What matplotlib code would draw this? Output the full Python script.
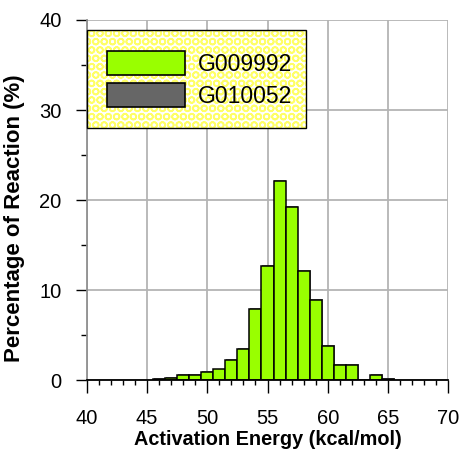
import matplotlib
matplotlib.use("Agg")
import matplotlib.pyplot as plt
from matplotlib.patches import Rectangle, Patch
from matplotlib.ticker import MultipleLocator

plt.rcParams['font.family'] = ['Liberation Sans', 'DejaVu Sans']
plt.rcParams['hatch.linewidth'] = 1.2

# Histogram of activation energies (bin centres in kcal/mol, percentage of reactions)
energy_bins = [46, 47, 48, 49, 50, 51, 52, 53, 54, 55, 56, 57, 58, 59, 60, 61, 62, 63, 64, 65]
g009992_pct = [0.15, 0.3, 0.55, 0.55, 0.95, 1.2, 2.25, 3.45, 7.9, 12.65, 22.1, 19.2,
               12.1, 8.95, 3.8, 1.75, 1.75, 0.0, 0.55, 0.15]
g010052_pct = []
series_names = ['G009992', 'G010052']
series_colors = ['#99ff00', '#666666']
x_ticks = [40, 45, 50, 55, 60, 65, 70]
y_ticks = [0, 10, 20, 30, 40]

fig = plt.figure(figsize=(4.64, 4.49), dpi=100)
ax = fig.add_axes([0.1869, 0.153, 0.7793, 0.8025])

# soft drop shadow behind each bar
ax.bar([b + 0.07 for b in energy_bins], [v + 0.1 if v > 0 else 0 for v in g009992_pct],
       width=1.0, color='#808080', linewidth=0, zorder=2)
ax.bar(energy_bins, g009992_pct, width=1.0, color=series_colors[0],
       edgecolor='black', linewidth=1.1, zorder=3)
ax.bar(energy_bins[:len(g010052_pct)], g010052_pct, width=1.0, color=series_colors[1],
       edgecolor='black', linewidth=1.1, zorder=3)

ax.set_xlim(x_ticks[0], x_ticks[-1])
ax.set_ylim(y_ticks[0], y_ticks[-1])
ax.set_xticks(x_ticks)
ax.set_yticks(y_ticks)
ax.xaxis.set_minor_locator(MultipleLocator(1))
ax.yaxis.set_minor_locator(MultipleLocator(5))

ax.grid(True, which='major', color='#b4b4b4', linewidth=1.3, zorder=0)
ax.set_axisbelow(True)

for side in ['top', 'right']:
    ax.spines[side].set_visible(False)
ax.spines['left'].set_color('#909090')
ax.spines['left'].set_linewidth(1.3)
ax.spines['bottom'].set_color('black')
ax.spines['bottom'].set_linewidth(1.3)
ax.spines['bottom'].set_zorder(4)

ax.tick_params(axis='x', which='major', direction='out', length=9, width=1.0,
               pad=12, labelsize=14.5, colors='black')
ax.tick_params(axis='x', which='minor', direction='out', length=3.5, width=1.0)
ax.tick_params(axis='y', which='major', direction='out', length=8, width=1.0,
               pad=10, labelsize=14.5)
ax.tick_params(axis='y', which='minor', direction='out', length=4.5, width=1.0)

ax.set_xlabel('Activation Energy (kcal/mol)', fontsize=14.3, fontweight='bold', labelpad=1)
ax.set_ylabel('Percentage of Reaction (%)', fontsize=16, fontweight='bold')
ax.yaxis.set_label_coords(-0.171, 0.45)

handles = [Patch(facecolor=c, edgecolor='black', linewidth=1.2) for c in series_colors]
leg = ax.legend(handles, series_names, loc='upper left',
                bbox_to_anchor=(0.0, 0.972, 0.6065, 0.0),
                mode='expand', fontsize=16.5, handlelength=3.4, handleheight=1.25,
                handletextpad=0.55, borderpad=0.9, labelspacing=0.32,
                borderaxespad=0.0, fancybox=False, framealpha=1.0)
frame = leg.get_frame()
frame.set_facecolor('none')
frame.set_edgecolor('black')
frame.set_linewidth(1.0)
leg.set_zorder(6)

# Dotted yellow backdrop behind the legend box
fig.canvas.draw()
bb = leg.get_window_extent().transformed(ax.transAxes.inverted())
backdrop = Rectangle((bb.x0, bb.y0), bb.width, bb.height, transform=ax.transAxes,
                     facecolor='white', edgecolor='#ffff66', hatch='OO',
                     linewidth=0, zorder=5)
ax.add_patch(backdrop)

fig.savefig('out.png', dpi=100)
